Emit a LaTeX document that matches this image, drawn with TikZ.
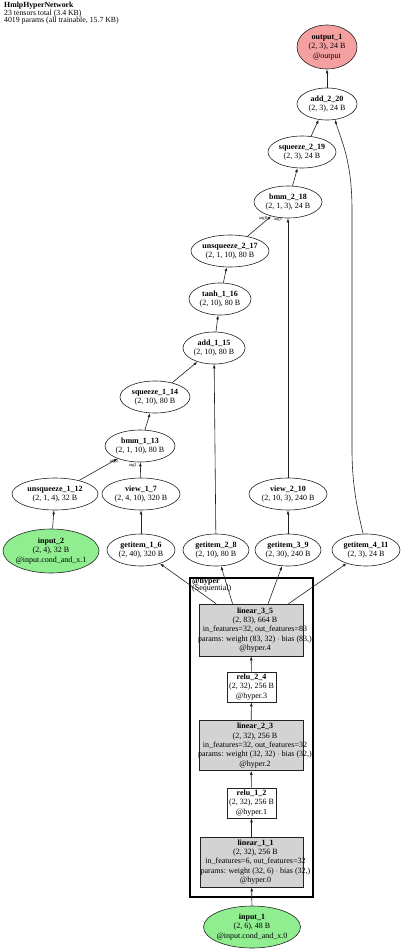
\documentclass[tikz,border=0pt]{standalone}
\usepackage{fontspec}
\setmainfont{Liberation Serif}
\usetikzlibrary{shapes.geometric,arrows.meta,calc}
\definecolor{redfill}{HTML}{F5A0A0}
\definecolor{greenfill}{HTML}{90EE90}
\definecolor{grayfill}{HTML}{D3D3D3}
\definecolor{linec}{HTML}{222222}
\begin{document}
\begin{tikzpicture}[x=1pt,y=-1pt,
  every node/.style={font=\fontsize{8}{9.4}\selectfont, align=center, inner sep=0pt},
  op/.style={ellipse, draw=linec, line width=0.6pt, fill=white, inner xsep=-25pt, inner ysep=-12pt},
  gbox/.style={rectangle, draw=linec, line width=0.6pt, fill=grayfill, inner sep=0pt},
  wbox/.style={rectangle, draw=linec, line width=0.6pt, fill=white, inner xsep=-5pt, inner ysep=-5pt},
  boxtext/.style={align=center, xshift=4pt},
  edge/.style={draw=linec, line width=0.6pt, -{Latex[length=4pt,width=2.8pt]}},
  argl/.style={font=\fontsize{4.6}{5}\selectfont}
]
\useasboundingbox (0,0) rectangle (400,952);

% header
\node[anchor=north west, align=left, font=\fontsize{7.8}{7.3}\selectfont] (hdr) at (4,2.3)
  {\textbf{HmlpHyperNetwork}\\23 tensors total (3.4 KB)\\4019 params (all trainable, 15.7 KB)};

% ellipse nodes
\node[op, fill=redfill, minimum width=60, minimum height=44] (output_1) at (327,47)
  {\textbf{output\_1}\\(2, 3), 24 B\\@output};
\node[op, minimum width=60, minimum height=32] (add_2_20) at (327,104)
  {\textbf{add\_2\_20}\\(2, 3), 24 B};
\node[op, minimum width=68, minimum height=32] (squeeze_2_19) at (302,152)
  {\textbf{squeeze\_2\_19}\\(2, 3), 24 B};
\node[op, minimum width=68, minimum height=32] (bmm_2_18) at (288,202)
  {\textbf{bmm\_2\_18}\\(2, 1, 3), 24 B};
\node[op, minimum width=78, minimum height=32] (unsqueeze_2_17) at (230,251)
  {\textbf{unsqueeze\_2\_17}\\(2, 1, 10), 80 B};
\node[op, minimum width=62, minimum height=32] (tanh_1_16) at (220,299)
  {\textbf{tanh\_1\_16}\\(2, 10), 80 B};
\node[op, minimum width=62, minimum height=32] (add_1_15) at (214,348)
  {\textbf{add\_1\_15}\\(2, 10), 80 B};
\node[op, minimum width=70, minimum height=32] (squeeze_1_14) at (155,397)
  {\textbf{squeeze\_1\_14}\\(2, 10), 80 B};
\node[op, minimum width=70, minimum height=32] (bmm_1_13) at (140,446)
  {\textbf{bmm\_1\_13}\\(2, 1, 10), 80 B};
\node[op, minimum width=86, minimum height=32] (unsqueeze_1_12) at (55,494)
  {\textbf{unsqueeze\_1\_12}\\(2, 1, 4), 32 B};
\node[op, minimum width=78, minimum height=32] (view_1_7) at (141,494)
  {\textbf{view\_1\_7}\\(2, 4, 10), 320 B};
\node[op, minimum width=78, minimum height=32] (view_2_10) at (288,494)
  {\textbf{view\_2\_10}\\(2, 10, 3), 240 B};
\node[op, fill=greenfill, minimum width=96, minimum height=44] (input_2) at (51,551)
  {\textbf{input\_2}\\(2, 4), 32 B\\@input.cond\_and\_x.1};
\node[op, minimum width=68, minimum height=32] (getitem_1_6) at (141,550)
  {\textbf{getitem\_1\_6}\\(2, 40), 320 B};
\node[op, minimum width=66, minimum height=32] (getitem_2_8) at (216,550)
  {\textbf{getitem\_2\_8}\\(2, 10), 80 B};
\node[op, minimum width=66, minimum height=32] (getitem_3_9) at (288,550)
  {\textbf{getitem\_3\_9}\\(2, 30), 240 B};
\node[op, minimum width=68, minimum height=32] (getitem_4_11) at (366,550)
  {\textbf{getitem\_4\_11}\\(2, 3), 24 B};
\node[op, fill=greenfill, minimum width=97, minimum height=42] (input_1) at (252,927)
  {\textbf{input\_1}\\(2, 6), 48 B\\@input.cond\_and\_x.0};

% cluster boxes
\node[gbox, minimum width=104, minimum height=52] (linear_3_5) at (251,630) {};
\node[boxtext] (linear_3_5_t) at (linear_3_5)
  {\textbf{linear\_3\_5}\\(2, 83), 664 B\\in\_features=32, out\_features=83\\params: weight (83, 32) $\cdot$ bias (83,)\\@hyper.4};
\node[wbox, minimum width=49, minimum height=30] (relu_2_4) at (251.5,687)
  {\textbf{relu\_2\_4}\\(2, 32), 256 B\\@hyper.3};
\node[gbox, minimum width=104, minimum height=50] (linear_2_3) at (251,745.5) {};
\node[boxtext] (linear_2_3_t) at (linear_2_3)
  {\textbf{linear\_2\_3}\\(2, 32), 256 B\\in\_features=32, out\_features=32\\params: weight (32, 32) $\cdot$ bias (32,)\\@hyper.2};
\node[wbox, minimum width=49, minimum height=30] (relu_1_2) at (251.5,803)
  {\textbf{relu\_1\_2}\\(2, 32), 256 B\\@hyper.1};
\node[gbox, minimum width=103, minimum height=50] (linear_1_1) at (251.5,862) {};
\node[boxtext] (linear_1_1_t) at (linear_1_1)
  {\textbf{linear\_1\_1}\\(2, 32), 256 B\\in\_features=6, out\_features=32\\params: weight (32, 6) $\cdot$ bias (32,)\\@hyper.0};

% cluster frame and label
\draw[line width=2.6pt, draw=black] (190,578) rectangle (313,897);
\node[anchor=west] (hyperlbl) at (192,582) {\textbf{@hyper}};
\node[anchor=west] (hypersub) at (192,589) {(Sequential)};

% edges
\draw[edge] (input_1) -- (linear_1_1);
\draw[edge] (linear_1_1) -- (relu_1_2);
\draw[edge] (relu_1_2) -- (linear_2_3);
\draw[edge] (linear_2_3) -- (relu_2_4);
\draw[edge] (relu_2_4) -- (linear_3_5);
\draw[edge] (linear_3_5.143) -- (getitem_1_6);
\draw[edge] (linear_3_5.125) -- (getitem_2_8);
\draw[edge] (linear_3_5.57) -- (getitem_3_9);
\draw[edge] (linear_3_5.35) -- (getitem_4_11);
\draw[edge] (getitem_1_6) -- (view_1_7);
\draw[edge] (view_1_7) -- (bmm_1_13);
\draw[edge] (input_2) -- (unsqueeze_1_12);
\draw[edge] (unsqueeze_1_12) -- (bmm_1_13);
\draw[edge] (bmm_1_13) -- (squeeze_1_14);
\draw[edge] (squeeze_1_14) -- (add_1_15);
\draw[edge] (getitem_2_8) -- (add_1_15);
\draw[edge] (add_1_15) -- (tanh_1_16);
\draw[edge] (tanh_1_16) -- (unsqueeze_2_17);
\draw[edge] (unsqueeze_2_17) -- (bmm_2_18);
\draw[edge] (getitem_3_9) -- (view_2_10);
\draw[edge] (view_2_10) -- (bmm_2_18);
\draw[edge] (bmm_2_18) -- (squeeze_2_19);
\draw[edge] (squeeze_2_19.60) -- (add_2_20.-118);
\draw[edge] (getitem_4_11.100) .. controls (356,505) and (352,480) .. (352,450)
  -- (352,210) .. controls (352,160) and (341,140) .. (add_2_20.-63);
\draw[edge] (add_2_20) -- (output_1);

% arg labels
\node[argl] (a0_1) at (114,461) {arg0};
\node[argl] (a1_1) at (133,465) {arg1};
\node[argl] (a0_2) at (263,218) {arg0};
\node[argl] (a1_2) at (278,219) {arg1};
\end{tikzpicture}
\end{document}
